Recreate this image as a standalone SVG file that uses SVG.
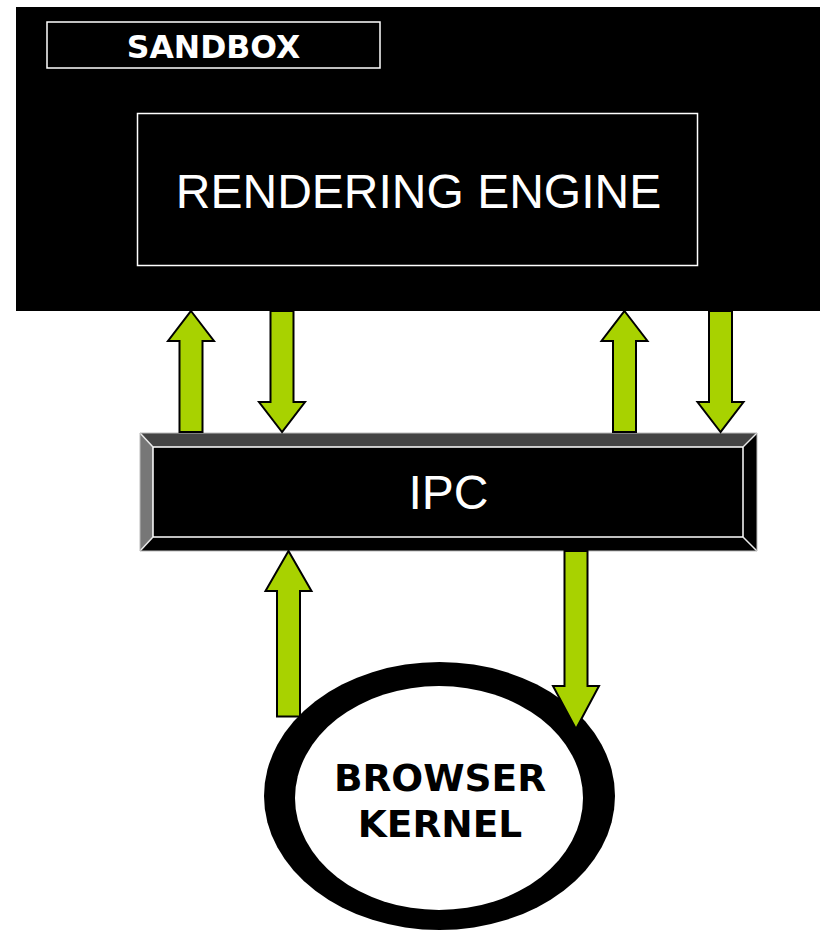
<svg xmlns="http://www.w3.org/2000/svg" width="820" height="932" viewBox="0 0 820 932">
  <style>
    .bold { font-family: "DejaVu Sans", Verdana, sans-serif; font-weight: bold; text-anchor: middle; }
    .plain { font-family: "Liberation Sans", Arial, sans-serif; fill: #ffffff; text-anchor: middle; }
    .arrow { fill: #a8d200; stroke: #000000; stroke-width: 2; stroke-linejoin: miter; }
  </style>
  <defs>
    <!-- block arrow pointing up, tip at origin -->
    <path id="arrowUp" d="M0,0 L23,30 L11.5,30 L11.5,121 L-11.5,121 L-11.5,30 L-23,30 Z"/>
  </defs>
  <rect width="820" height="932" fill="#ffffff"/>

  <!-- sandbox container -->
  <g id="sandbox">
    <rect x="16" y="7" width="804" height="304" fill="#000000"/>
    <rect x="47" y="22" width="333" height="46" fill="none" stroke="#ffffff" stroke-width="1.5"/>
    <text class="bold" x="213.5" y="57.5" font-size="31.5" fill="#ffffff">SANDBOX</text>
  </g>

  <g id="rendering-engine">
    <rect x="137.5" y="113.5" width="560" height="152" fill="#000000" stroke="#ffffff" stroke-width="1.5"/>
    <text class="plain" x="418.5" y="208" font-size="48">RENDERING ENGINE</text>
  </g>

  <!-- bevelled IPC bar -->
  <g id="ipc">
    <polygon points="140,433 757,433 743,447 153,447" fill="#444444"/>
    <polygon points="140,433 153,447 153,537 140,551" fill="#777777"/>
    <polygon points="757,433 757,551 743,537 743,447" fill="#000000"/>
    <polygon points="140,551 153,537 743,537 757,551" fill="#000000"/>
    <rect x="153" y="447" width="590" height="90" fill="#000000" stroke="#ffffff" stroke-width="1.5"/>
    <g stroke="#e8e8e8" stroke-width="1.5">
      <line x1="140" y1="433" x2="153" y2="447"/>
      <line x1="140" y1="551" x2="153" y2="537"/>
      <line x1="757" y1="433" x2="743" y2="447"/>
      <line x1="757" y1="551" x2="743" y2="537"/>
    </g>
    <polygon points="140,433 757,433 757,551 140,551" fill="none" stroke="#bbbbbb" stroke-width="1"/>
    <text class="plain" x="448.5" y="509" font-size="48">IPC</text>
  </g>

  <!-- browser kernel ring -->
  <g id="browser-kernel">
    <ellipse cx="439.5" cy="796" rx="175.5" ry="134" fill="#000000"/>
    <ellipse cx="439" cy="798" rx="144" ry="112" fill="#ffffff"/>
    <text class="bold" x="440" y="790.5" font-size="37.5" fill="#000000">BROWSER</text>
    <text class="bold" x="440" y="836.5" font-size="37.5" fill="#000000">KERNEL</text>
  </g>

  <!-- connectors -->
  <g id="connectors">
    <use href="#arrowUp" class="arrow" transform="translate(191,311)"/>
    <use href="#arrowUp" class="arrow" transform="translate(282,432) rotate(180)"/>
    <use href="#arrowUp" class="arrow" transform="translate(624.5,311)"/>
    <use href="#arrowUp" class="arrow" transform="translate(720.5,432) rotate(180)"/>
    <path class="arrow" d="M288.5,551 L311.5,591 L300,591 L300,716.5 L277,716.5 L277,591 L265.5,591 Z"/>
    <path class="arrow" d="M576,729 L599,686 L587.5,686 L587.5,551 L564.5,551 L564.5,686 L553,686 Z"/>
  </g>
</svg>
